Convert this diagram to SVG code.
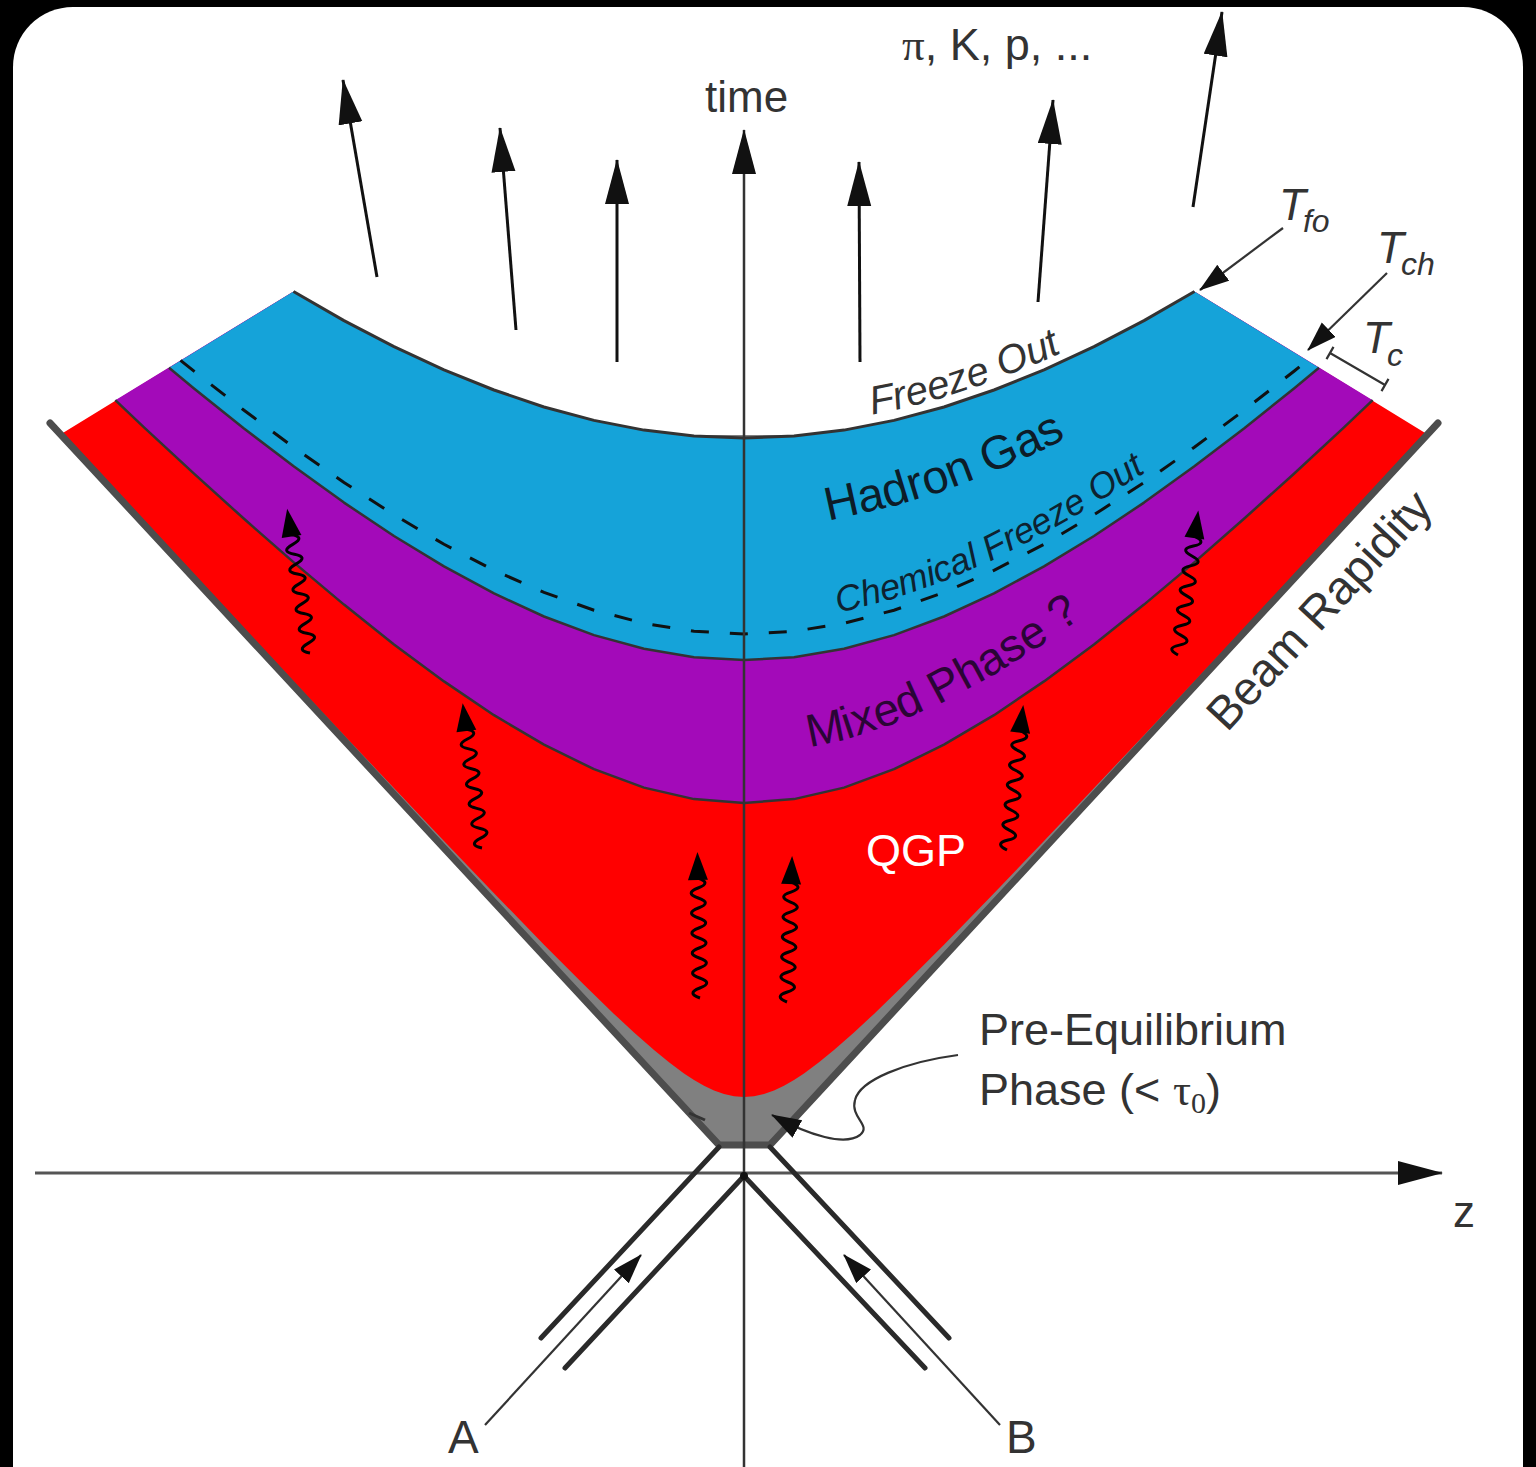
<svg xmlns="http://www.w3.org/2000/svg" xmlns:xlink="http://www.w3.org/1999/xlink" width="1536" height="1467" viewBox="0 0 1536 1467">
<defs>
<style>
text { font-family: "Liberation Sans", Arial, sans-serif; fill: #333; }
.bandline { fill: none; stroke: #333; stroke-width: 2.5; stroke-linejoin: round; }
.arrow { fill: none; stroke: #111; stroke-width: 3; }
.thin { fill: none; stroke: #333; stroke-width: 2.2; }
.beam { fill: none; stroke: #2a2a2a; stroke-width: 5; stroke-linecap: round; }
.it { font-style: italic; }
.serif { font-family: "Liberation Serif", "Times New Roman", serif; }
</style>
<marker id="ahBig" markerUnits="userSpaceOnUse" markerWidth="46" markerHeight="26" refX="44" refY="12" orient="auto">
<path d="M0,0 L45,12 L0,24 z" fill="#111"/>
</marker>
<marker id="ahSmall" markerUnits="userSpaceOnUse" markerWidth="32" markerHeight="22" refX="29" refY="10" orient="auto">
<path d="M0,0 L30,10 L0,20 z" fill="#111"/>
</marker>
<g id="photon">
<path d="M0,0 q-14,-5 0,-10 t0,-10 t0,-10 t0,-10 t0,-10 t0,-10 t0,-10 t0,-10 t0,-10 t0,-10 t0,-10 t0,-10" fill="none" stroke="#000" stroke-width="3"/>
<path d="M-10,-118 L0,-146 L10,-118 Z" fill="#000"/>
</g>
<path id="pHadron" d="M744,526 L794,523.8 L844,517.1 L894,506.1 L944,490.9 L994,472.0 L1044,449.5 L1094,423.8 L1144,395.2"/>
<path id="pChem" d="M744,622 L794,619.4 L844,611.5 L894,598.7 L944,581.2 L994,559.5 L1044,533.9 L1094,505.0 L1144,473.1 L1194,438.5"/>
<path id="pMixed" d="M744,754 L794,750.5 L844,740.3 L894,723.8 L944,701.7 L994,674.7 L1044,643.6 L1094,608.9 L1144,571.5 L1194,531.7"/>
<path id="pFreeze" d="M744,428 L794,426.05 L844,420.2 L894,410.6 L944,397.4 L994,380.6 L1044,360.7 L1094,337.7 L1144,311.9 L1194,283.7"/>
</defs>

<rect x="0" y="0" width="1536" height="1467" fill="#000"/>
<rect x="13" y="7" width="1510" height="1520" rx="60" fill="#fff"/>

<g id="regions">
<path id="gray-preequilibrium" d="M60,435 L719,1145 L770,1145 L1428,435 Z" fill="#808080"/>
<path id="qgp-region" fill="#ff0000" d="M62,433.4 L144,521.4 L244,628.5 L344,735.2 L444,841.0 L494,893.2 L544,944.7 L584,984.8 L614,1013.9 L634,1032.4 L654,1050.0 L669,1062.2 L684,1073.4 L694,1080.0 L704,1085.7 L714,1090.5 L724,1094.0 L734,1096.25 L744,1097 L754,1096.25 L764,1094.0 L774,1090.5 L784,1085.7 L794,1080.0 L804,1073.4 L819,1062.2 L834,1050.0 L854,1032.4 L874,1013.9 L904,984.8 L944,944.7 L994,893.2 L1044,841.0 L1144,735.2 L1244,628.5 L1344,521.4 L1426,433.4 L1194.5,291.5 L1144,320.6 L1094,346.6 L1044,369.8 L994,390.0 L944,407.0 L894,420.4 L844,430.1 L794,436.0 L744,438 L694,436.0 L644,430.1 L594,420.4 L544,407.0 L494,390.0 L444,369.8 L394,346.6 L344,320.6 L293.5,291.5 Z"/>
<path id="mixed-region" fill="#a30ab9" d="M115.3,400.2 L144,427.3 L194,473.7 L244,518.8 L294,562.6 L344,604.6 L394,644.4 L444,681.4 L494,715.2 L544,744.7 L594,769.2 L644,787.6 L694,799.1 L744,803 L794,799.1 L844,787.6 L894,769.2 L944,744.7 L994,715.2 L1044,681.4 L1094,644.4 L1144,604.6 L1194,562.6 L1244,518.8 L1294,473.7 L1344,427.3 L1372.7,400.2 L1194.5,291.5 L1144,320.6 L1094,346.6 L1044,369.8 L994,390.0 L944,407.0 L894,420.4 L844,430.1 L794,436.0 L744,438 L694,436.0 L644,430.1 L594,420.4 L544,407.0 L494,390.0 L444,369.8 L394,346.6 L344,320.6 L293.5,291.5 Z"/>
<path id="hadron-region" fill="#15a3d9" d="M169,367.8 L194,388.5 L244,428.5 L294,466.6 L344,502.6 L394,536.0 L444,566.4 L494,593.4 L544,616.5 L594,635.1 L644,648.8 L694,657.2 L744,660 L794,657.2 L844,648.8 L894,635.1 L944,616.5 L994,593.4 L1044,566.4 L1094,536.0 L1144,502.6 L1194,466.6 L1244,428.5 L1294,388.5 L1319,367.8 L1194.5,291.5 L1144,320.6 L1094,346.6 L1044,369.8 L994,390.0 L944,407.0 L894,420.4 L844,430.1 L794,436.0 L744,438 L694,436.0 L644,430.1 L594,420.4 L544,407.0 L494,390.0 L444,369.8 L394,346.6 L344,320.6 L293.5,291.5 Z"/>
</g>

<g id="boundaries">
<path class="bandline" d="M115.3,400.2 L144,427.3 L194,473.7 L244,518.8 L294,562.6 L344,604.6 L394,644.4 L444,681.4 L494,715.2 L544,744.7 L594,769.2 L644,787.6 L694,799.1 L744,803 L794,799.1 L844,787.6 L894,769.2 L944,744.7 L994,715.2 L1044,681.4 L1094,644.4 L1144,604.6 L1194,562.6 L1244,518.8 L1294,473.7 L1344,427.3 L1372.7,400.2"/>
<path class="bandline" d="M169,367.8 L194,388.5 L244,428.5 L294,466.6 L344,502.6 L394,536.0 L444,566.4 L494,593.4 L544,616.5 L594,635.1 L644,648.8 L694,657.2 L744,660 L794,657.2 L844,648.8 L894,635.1 L944,616.5 L994,593.4 L1044,566.4 L1094,536.0 L1144,502.6 L1194,466.6 L1244,428.5 L1294,388.5 L1319,367.8"/>
<path class="bandline" style="stroke-width:3" d="M293.5,291.5 L344,320.6 L394,346.6 L444,369.8 L494,390.0 L544,407.0 L594,420.4 L644,430.1 L694,436.0 L744,438 L794,436.0 L844,430.1 L894,420.4 L944,407.0 L994,390.0 L1044,369.8 L1094,346.6 L1144,320.6 L1194.5,291.5"/>
<path fill="none" stroke="#111" stroke-width="3" stroke-dasharray="18 21" d="M180.5,360.4 L194,371.2 L244,410.3 L294,447.5 L344,482.5 L394,514.8 L444,544.3 L494,570.3 L544,592.4 L594,610.2 L644,623.3 L694,631.3 L744,634 L794,631.3 L844,623.3 L894,610.2 L944,592.4 L994,570.3 L1044,544.3 L1094,514.8 L1144,482.5 L1194,447.5 L1244,410.3 L1294,371.2 L1307.5,360.4"/>
</g>

<g id="cone">
<path d="M50,423 L719,1145 L770,1145 L1438,423" fill="none" stroke="#4d4d4d" stroke-width="7" stroke-linejoin="miter" stroke-linecap="round"/>
<path d="M689,1113 L705,1120" stroke="#333" stroke-width="3" fill="none"/>
</g>

<g id="connectors">
<line x1="35" y1="1173" x2="1442" y2="1173" stroke="#555" stroke-width="3" marker-end="url(#ahBig)"/>
<line x1="744" y1="1467" x2="744" y2="130" stroke="#333" stroke-width="2.5" marker-end="url(#ahBig)"/>
<line class="beam" x1="719" y1="1147" x2="541" y2="1338"/>
<line class="beam" x1="770" y1="1147" x2="949" y2="1338"/>
<line class="beam" x1="744" y1="1176" x2="565" y2="1368"/>
<line class="beam" x1="744" y1="1176" x2="925" y2="1368"/>
<circle cx="744" cy="1176" r="4" fill="#111"/>
<line class="thin" x1="485" y1="1425" x2="641" y2="1255" marker-end="url(#ahSmall)"/>
<line class="thin" x1="1000" y1="1425" x2="844" y2="1255" marker-end="url(#ahSmall)"/>
<line class="arrow" x1="377" y1="277" x2="343" y2="80" marker-end="url(#ahBig)"/>
<line class="arrow" x1="516" y1="330" x2="500" y2="128" marker-end="url(#ahBig)"/>
<line class="arrow" x1="617" y1="362" x2="617" y2="160" marker-end="url(#ahBig)"/>
<line class="arrow" x1="860" y1="362" x2="859" y2="162" marker-end="url(#ahBig)"/>
<line class="arrow" x1="1038" y1="302" x2="1053" y2="100" marker-end="url(#ahBig)"/>
<line class="arrow" x1="1193" y1="207" x2="1222" y2="12" marker-end="url(#ahBig)"/>
<line class="thin" x1="1283" y1="228" x2="1200" y2="290" marker-end="url(#ahSmall)"/>
<line class="thin" x1="1387" y1="273" x2="1308" y2="350" marker-end="url(#ahSmall)"/>
<path class="thin" d="M1330,353 L1385,385 M1333.5,346.9 L1326.5,359.1 M1388.5,378.9 L1381.5,391.1"/>
<path class="thin" d="M958,1055 C905,1062 860,1080 855,1100 C850,1118 872,1125 860,1135 C845,1146 810,1136 772,1115" marker-end="url(#ahSmall)"/>
</g>

<g id="photons">
<use xlink:href="#photon" transform="translate(310,653) rotate(-9)"/>
<use xlink:href="#photon" transform="translate(482,848) rotate(-7.6)"/>
<use xlink:href="#photon" transform="translate(700,998) rotate(-1)"/>
<use xlink:href="#photon" transform="translate(787,1002) rotate(2)"/>
<use xlink:href="#photon" transform="translate(1007,850) rotate(6.4)"/>
<use xlink:href="#photon" transform="translate(1178,655) rotate(8)"/>
</g>

<g id="labels">
<text x="705" y="112" font-size="44">time</text>
<text x="902" y="60" font-size="45"><tspan class="serif">π</tspan>, K, p, ...</text>
<text x="1453" y="1227" font-size="44">z</text>
<text x="448" y="1453" font-size="46">A</text>
<text x="1006" y="1453" font-size="46">B</text>
<text x="979" y="1045" font-size="45">Pre-Equilibrium</text>
<text x="979" y="1105" font-size="45">Phase (&lt; <tspan class="serif">τ</tspan><tspan class="serif" font-size="30" dy="8">0</tspan><tspan dy="-8">)</tspan></text>
<text x="866" y="866" font-size="45" style="fill:#fff">QGP</text>
<text class="it" x="1279" y="220" font-size="44">T<tspan font-size="32" dy="12" dx="-3">fo</tspan></text>
<text class="it" x="1377" y="263" font-size="44">T<tspan font-size="32" dy="12" dx="-3">ch</tspan></text>
<text class="it" x="1363" y="353" font-size="44">T<tspan font-size="32" dy="13" dx="-3">c</tspan></text>
<text font-size="47" style="fill:#0d1c28"><textPath xlink:href="#pHadron" startOffset="84">Hadron Gas</textPath></text>
<text class="it" font-size="36" style="fill:#0e2230"><textPath xlink:href="#pChem" startOffset="95">Chemical Freeze Out</textPath></text>
<text font-size="46" style="fill:#2a0535"><textPath xlink:href="#pMixed" startOffset="66">Mixed Phase ?</textPath></text>
<text class="it" font-size="40"><textPath xlink:href="#pFreeze" startOffset="129">Freeze Out</textPath></text>
<text x="1227" y="733" font-size="47" transform="rotate(-47.2 1227 733)">Beam Rapidity</text>
</g>
</svg>
